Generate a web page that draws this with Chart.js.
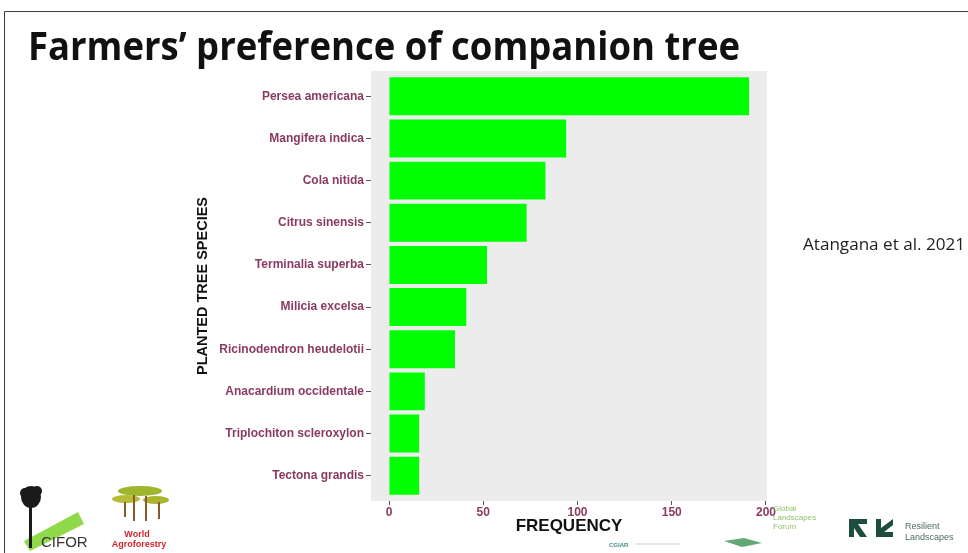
<!DOCTYPE html>
<html>
<head>
<meta charset="utf-8">
<title>Farmers’ preference of companion tree</title>
<script src="https://cdn.jsdelivr.net/npm/chart.js@4.4.1/dist/chart.umd.min.js"></script>
<style>
  html, body { margin: 0; padding: 0; background: #ffffff; }
  body { width: 968px; height: 553px; position: relative; overflow: hidden; }
  #chart { position: absolute; left: 0; top: 0; }
  #slide { position: absolute; left: 0; top: 0; pointer-events: none; }
</style>
</head>
<body>
<canvas id="chart" width="968" height="553"></canvas>

<svg id="slide" width="968" height="553" xmlns="http://www.w3.org/2000/svg">
  <!-- slide frame -->
  <line x1="4.5" y1="11.5" x2="968" y2="11.5" stroke="#3c3c3c" stroke-width="1"/>
  <line x1="4.5" y1="11.5" x2="4.5" y2="553" stroke="#3c3c3c" stroke-width="1"/>

  <!-- slide heading -->
  <text x="28" y="60" font-family="Open Sans" font-weight="700" font-size="40" fill="#111111"
        textLength="712" lengthAdjust="spacingAndGlyphs">Farmers’ preference of companion tree</text>

  <!-- reference note -->
  <text x="803" y="250" font-family="Open Sans" font-size="17" fill="#1e1e1e"
        textLength="162" lengthAdjust="spacingAndGlyphs">Atangana et al. 2021</text>

  <!-- CIFOR logo -->
  <polygon points="24,541 78,512 84,524 30,551" fill="#8fd94a"/>
  <rect x="29" y="500" width="3" height="48" fill="#1a1a1a"/>
  <ellipse cx="31" cy="497" rx="10" ry="11" fill="#1a1a1a"/>
  <ellipse cx="25" cy="493" rx="5" ry="5" fill="#1a1a1a"/>
  <ellipse cx="37" cy="491" rx="5" ry="5" fill="#1a1a1a"/>
  <text x="41" y="547" font-family="Liberation Sans" font-size="15" fill="#333333">CIFOR</text>

  <!-- World Agroforestry logo -->
  <ellipse cx="140" cy="491" rx="22" ry="5" fill="#9fb52c"/>
  <ellipse cx="126" cy="499" rx="14" ry="4" fill="#b6bd34"/>
  <ellipse cx="156" cy="500" rx="13" ry="4" fill="#a9b42f"/>
  <rect x="133" y="495" width="2" height="26" fill="#8a5a2b"/>
  <rect x="145" y="496" width="2" height="25" fill="#8a5a2b"/>
  <rect x="124" y="502" width="2" height="15" fill="#8a5a2b"/>
  <rect x="158" y="502" width="2" height="17" fill="#8a5a2b"/>
  <text x="137" y="537" font-family="Liberation Sans" font-weight="700" font-size="9" fill="#d3232a" text-anchor="middle">World</text>
  <text x="139" y="547" font-family="Liberation Sans" font-weight="700" font-size="9" fill="#d3232a" text-anchor="middle">Agroforestry</text>

  <!-- CGIAR mark -->
  <text x="609" y="547" font-family="Liberation Sans" font-weight="700" font-size="6" fill="#3a8f8c">CGIAR</text>
  <line x1="635" y1="544" x2="680" y2="544" stroke="#c9d4d2" stroke-width="1"/>

  <!-- Global Landscapes Forum mark -->
  <polygon points="724,541 744,538 762,543 742,547" fill="#2f8a4a" opacity="0.75"/>
  <text x="773" y="511" font-family="Liberation Sans" font-size="8" fill="#8cc36a">Global</text>
  <text x="773" y="520" font-family="Liberation Sans" font-size="8" fill="#8cc36a">Landscapes</text>
  <text x="773" y="529" font-family="Liberation Sans" font-size="8" fill="#8cc36a">Forum</text>

  <!-- Resilient Landscapes mark -->
  <polygon points="849,519 867,519 867,524 858,524 867,537 860,537 854,528 854,537 849,537" fill="#1c4d3d"/>
  <polygon points="876,519 881,519 881,528 893,519 893,525 884,532 893,532 893,537 876,537" fill="#1c4d3d"/>
  <text x="905" y="529" font-family="Liberation Sans" font-size="9" fill="#4c6d62">Resilient</text>
  <text x="905" y="540" font-family="Liberation Sans" font-size="9" fill="#4c6d62">Landscapes</text>
</svg>

<script>
// Planted companion tree species, top to bottom
const species = [
  'Persea americana',
  'Mangifera indica',
  'Cola nitida',
  'Citrus sinensis',
  'Terminalia superba',
  'Milicia excelsa',
  'Ricinodendron heudelotii',
  'Anacardium occidentale',
  'Triplochiton scleroxylon',
  'Tectona grandis'
];

// Number of farmers citing each species
const frequency = [191, 94, 83, 73, 52, 41, 35, 19, 16, 16];

// Frequency axis ticks
const frequencyTicks = [0, 50, 100, 150, 200];

const labelColor = '#8a3b62';
const panelColor = '#ececec';

// grey panel behind the bars
const panelBackground = {
  id: 'panelBackground',
  beforeDraw(chart) {
    const { ctx, chartArea: a } = chart;
    ctx.save();
    ctx.fillStyle = panelColor;
    ctx.fillRect(a.left, a.top, a.right - a.left, a.bottom - a.top);
    ctx.restore();
  }
};

const maxFreq = Math.max(...frequency);
const pad = maxFreq * 0.05;

new Chart(document.getElementById('chart'), {
  type: 'bar',
  data: {
    datasets: [{
      data: species.map((s, i) => ({ x: frequency[i], y: i })),
      backgroundColor: '#00ff00',
      borderWidth: 0,
      barPercentage: 0.9,
      categoryPercentage: 1.0
    }]
  },
  plugins: [panelBackground],
  options: {
    indexAxis: 'y',
    responsive: false,
    animation: false,
    devicePixelRatio: 1,
    layout: { padding: { left: 190, right: 201, top: 71, bottom: 16 } },
    plugins: {
      legend: { display: false },
      tooltip: { enabled: false },
      title: { display: false }
    },
    scales: {
      x: {
        type: 'linear',
        position: 'bottom',
        min: -pad,
        max: maxFreq + pad,
        afterBuildTicks(scale) {
          scale.ticks = frequencyTicks.map(v => ({ value: v }));
        },
        afterFit(scale) { scale.height = 36; },
        ticks: {
          color: labelColor,
          font: { family: 'Liberation Sans', size: 12, weight: 'bold' },
          padding: 0,
          maxRotation: 0
        },
        grid: {
          display: true,
          drawOnChartArea: false,
          drawTicks: true,
          tickLength: 4,
          color: '#555555',
          lineWidth: 1
        },
        border: { display: false },
        title: {
          display: true,
          text: 'FREQUENCY',
          color: '#111111',
          font: { family: 'Liberation Sans', size: 17, weight: 'bold' },
          padding: { top: 0, bottom: 0 }
        }
      },
      y: {
        type: 'linear',
        reverse: true,
        offset: false,
        min: -0.6,
        max: species.length - 1 + 0.6,
        afterBuildTicks(scale) {
          scale.ticks = species.map((s, i) => ({ value: i }));
        },
        afterFit(scale) { scale.width = 181; },
        ticks: {
          color: labelColor,
          font: { family: 'Liberation Sans', size: 12, weight: 'bold' },
          padding: 2,
          autoSkip: false,
          callback: v => species[v]
        },
        grid: {
          display: true,
          offset: false,
          drawOnChartArea: false,
          drawTicks: true,
          tickLength: 5,
          color: '#555555',
          lineWidth: 1
        },
        border: { display: false },
        title: {
          display: true,
          text: 'PLANTED TREE SPECIES',
          color: '#111111',
          font: { family: 'Liberation Sans', size: 14.5, weight: 'bold' },
          padding: { top: 4, bottom: 4 }
        }
      }
    }
  }
});
</script>
</body>
</html>
